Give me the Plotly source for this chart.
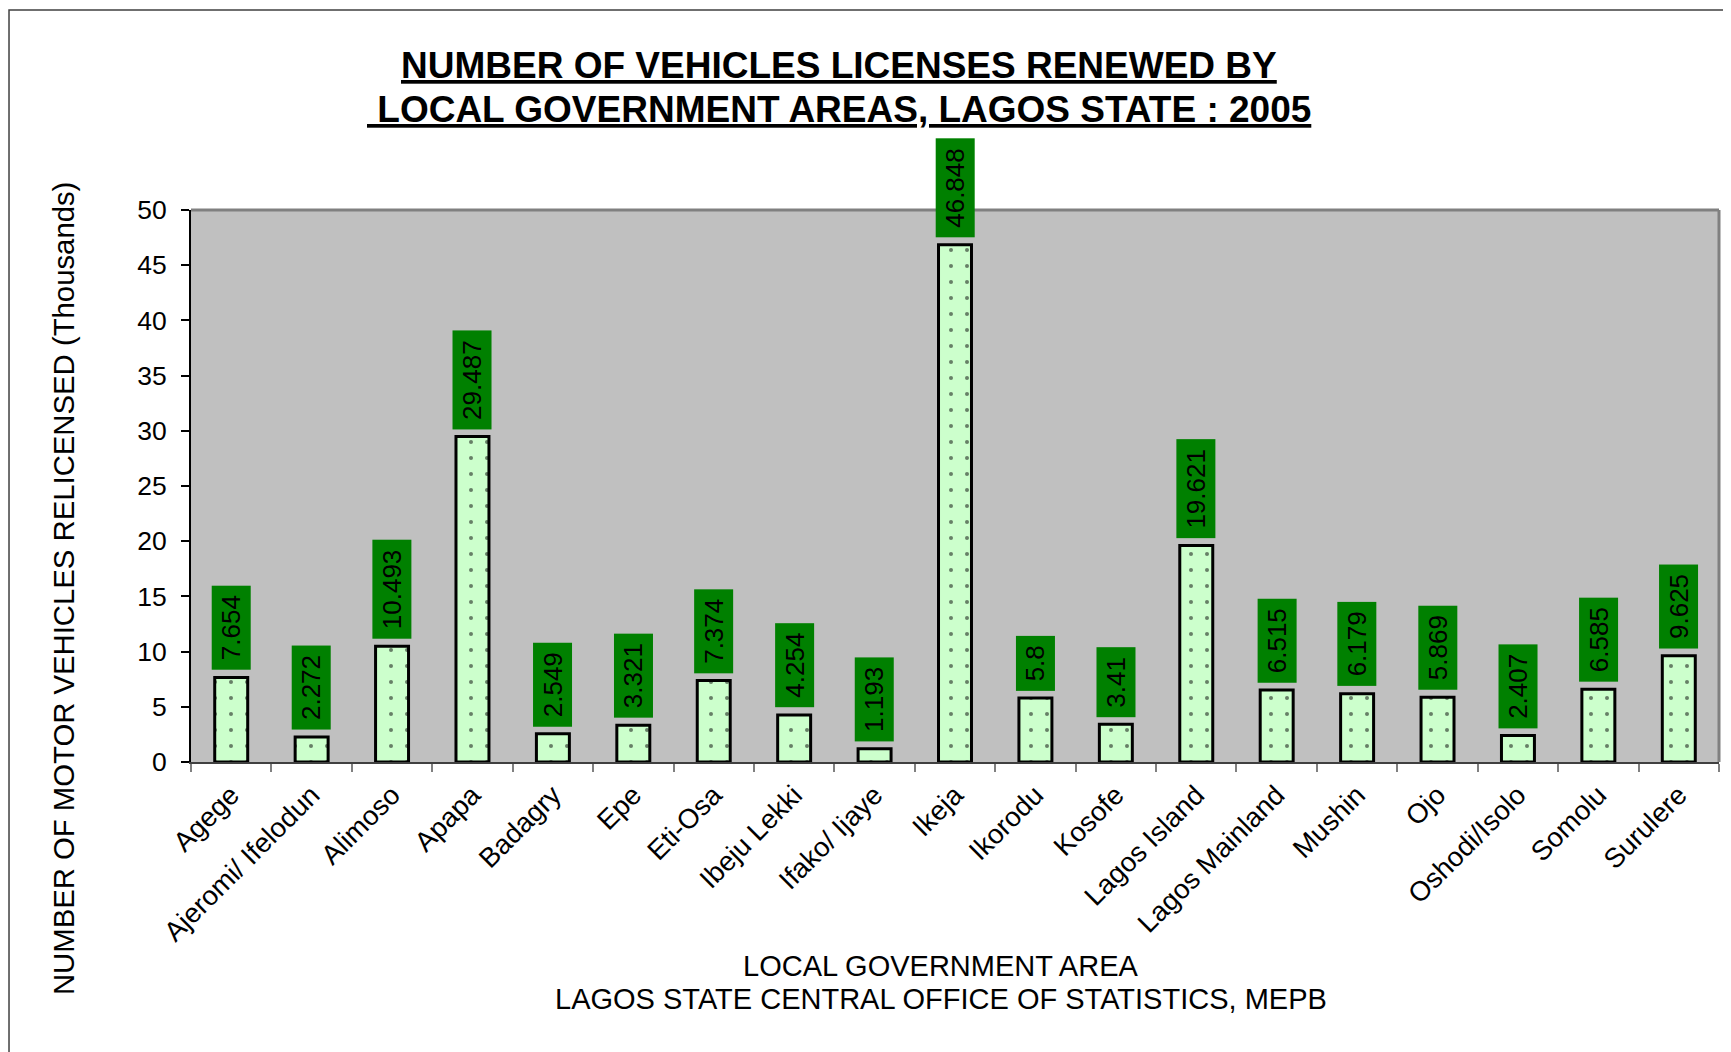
import plotly.graph_objects as go

categories = ["Agege", "Ajeromi/ Ifelodun", "Alimoso", "Apapa", "Badagry", "Epe",
              "Eti-Osa", "Ibeju Lekki", "Ifako/ Ijaye", "Ikeja", "Ikorodu", "Kosofe",
              "Lagos Island", "Lagos Mainland", "Mushin", "Ojo", "Oshodi/Isolo",
              "Somolu", "Surulere"]
values = [7.654, 2.272, 10.493, 29.487, 2.549, 3.321, 7.374, 4.254, 1.193, 46.848,
          5.8, 3.41, 19.621, 6.515, 6.179, 5.869, 2.407, 6.585, 9.625]
value_labels = ["7.654", "2.272", "10.493", "29.487", "2.549", "3.321", "7.374", "4.254",
                "1.193", "46.848", "5.8", "3.41", "19.621", "6.515", "6.179", "5.869",
                "2.407", "6.585", "9.625"]
y_ticks = [0, 5, 10, 15, 20, 25, 30, 35, 40, 45, 50]

FONT = "Liberation Sans, Arial, sans-serif"
PAD = "<span style='font-size:18px'>\u00a0</span>"

fig = go.Figure()
fig.add_trace(go.Bar(
    x=categories, y=values, width=0.41,
    marker=dict(color="#ccffcc", line=dict(color="#000000", width=3),
                pattern=dict(shape=".", fgcolor="#000000", bgcolor="#ccffcc",
                             size=16, solidity=0.05)),
    hoverinfo="x+y", showlegend=False,
))

annotations = []
for c, v, t in zip(categories, values, value_labels):
    annotations.append(dict(
        x=c, y=v, xref="x", yref="y", text=PAD + t + PAD, showarrow=False,
        textangle=-90, xanchor="center", yanchor="bottom", yshift=7,
        bgcolor="#008000", borderpad=4, font=dict(family=FONT, size=26, color="#000000"),
    ))

# title (two lines)
annotations.append(dict(
    x=0.4241, y=1.2609, xref="paper", yref="paper", showarrow=False,
    xanchor="center", yanchor="middle",
    text="<b><u>NUMBER OF VEHICLES LICENSES RENEWED BY</u></b>",
    font=dict(family=FONT, size=37, color="#000000"),
))
annotations.append(dict(
    x=0.4241, y=1.1812, xref="paper", yref="paper", showarrow=False,
    xanchor="center", yanchor="middle",
    text="<b><u>\u00a0LOCAL GOVERNMENT AREAS, LAGOS STATE : 2005</u></b>",
    font=dict(family=FONT, size=37, color="#000000"),
))
# y axis title
annotations.append(dict(
    x=-0.0838, y=0.315, xref="paper", yref="paper", showarrow=False,
    xanchor="center", yanchor="middle", textangle=-90,
    text="NUMBER OF MOTOR VEHICLES RELICENSED (Thousands)",
    font=dict(family=FONT, size=29.3, color="#000000"),
))
# x axis title (two lines)
annotations.append(dict(
    x=0.4908, y=-0.3696, xref="paper", yref="paper", showarrow=False,
    xanchor="center", yanchor="middle",
    text="LOCAL GOVERNMENT AREA",
    font=dict(family=FONT, size=29, color="#000000"),
))
annotations.append(dict(
    x=0.4908, y=-0.4293, xref="paper", yref="paper", showarrow=False,
    xanchor="center", yanchor="middle",
    text="LAGOS STATE CENTRAL OFFICE OF STATISTICS, MEPB",
    font=dict(family=FONT, size=29, color="#000000"),
))

shapes = [
    dict(type="rect", xref="paper", yref="paper", x0=-0.1191, x1=1.3, y0=-1.0, y1=1.3623,
         line=dict(color="#404040", width=1.5), layer="below"),
    dict(type="line", xref="paper", yref="paper", x0=0, x1=1, y0=1, y1=1,
         line=dict(color="#808080", width=3)),
    dict(type="line", xref="paper", yref="paper", x0=1, x1=1, y0=0, y1=1,
         line=dict(color="#808080", width=3)),
]

fig.update_layout(
    width=1731, height=1052,
    margin=dict(l=183, r=20, t=202, b=298),
    paper_bgcolor="#ffffff", plot_bgcolor="#c0c0c0",
    font=dict(family=FONT, size=26, color="#000000"),
    annotations=annotations, shapes=shapes, bargap=0.59,
)
fig.update_xaxes(
    type="category", tickangle=-45, tickson="boundaries", ticks="outside", ticklen=8,
    tickcolor="#808080", tickwidth=1.5, showline=True, linecolor="#404040", linewidth=2,
    showgrid=False, ticklabelstandoff=4, tickfont=dict(family=FONT, size=27.5, color="#000000"),
)
fig.update_yaxes(
    range=[0, 50], tickvals=y_ticks, ticks="outside", ticklen=8, tickcolor="#000000",
    tickwidth=1.5, showline=True, linecolor="#000000", linewidth=2, showgrid=False,
    zeroline=False, ticklabelstandoff=9, tickfont=dict(family=FONT, size=26.5, color="#000000"),
)

fig.write_html("out.html")
